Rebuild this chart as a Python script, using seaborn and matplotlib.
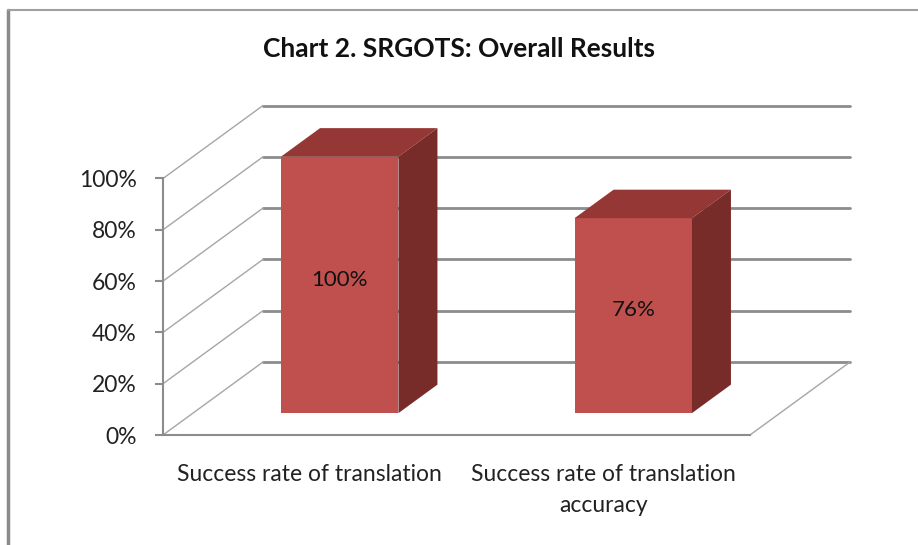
import matplotlib
matplotlib.use("Agg")
import matplotlib.pyplot as plt
from matplotlib.patches import Polygon
from matplotlib.lines import Line2D
import seaborn as sns

categories = ["Success rate of translation", "Success rate of translation\naccuracy"]
values = [1.00, 0.76]
value_labels = ["100%", "76%"]
y_ticks = [0, 0.2, 0.4, 0.6, 0.8, 1.0]
y_tick_labels = ["0%", "20%", "40%", "60%", "80%", "100%"]
title = "Chart 2. SRGOTS: Overall Results"

# fake 3d: depth offset of the back wall, in data units
DX, DY = 0.3407, 0.2846
Z0, Z1 = 0.30, 0.69   # bar front / back depth
front_c, top_c, side_c = "#C0504D", "#953735", "#772C2A"
grid_c = "#8C8C8C"

sns.set_style("white")
plt.rcParams["font.family"] = ["Lato", "DejaVu Sans"]

fig = plt.figure(figsize=(9.18, 5.45), dpi=100)
ax = fig.add_axes([163 / 918, 110 / 545, 687 / 918, 329.5 / 545])

sns.barplot(x=categories, y=values, color=front_c, width=0.4, errorbar=None,
            saturation=1, linewidth=0, ax=ax, zorder=3)

# walls
for v in y_ticks:
    ax.plot([-0.5 + DX, 1.5 + DX], [v + DY, v + DY], color=grid_c, lw=2, zorder=1, clip_on=False)
    ax.plot([-0.5, -0.5 + DX], [v, v + DY], color="#A6A6A6", lw=1, zorder=1, clip_on=False)
ax.plot([1.5, 1.5 + DX], [0, DY], color="#A6A6A6", lw=1, zorder=1, clip_on=False)

# shift bars back and add top / side faces
ddx, ddy = (Z1 - Z0) * DX, (Z1 - Z0) * DY
for p, lab in zip(ax.patches, value_labels):
    p.set_x(p.get_x() + Z0 * DX)
    p.set_y(Z0 * DY)
    x0, w, h = p.get_x(), p.get_width(), p.get_height()
    y0, y1, x1 = Z0 * DY, Z0 * DY + h, x0 + w
    ax.add_patch(Polygon([(x0, y1), (x0 + ddx, y1 + ddy), (x1 + ddx, y1 + ddy), (x1, y1)],
                         closed=True, facecolor=top_c, edgecolor="none", zorder=3))
    ax.add_patch(Polygon([(x1, y0), (x1 + ddx, y0 + ddy), (x1 + ddx, y1 + ddy), (x1, y1)],
                         closed=True, facecolor=side_c, edgecolor="none", zorder=3))
    ax.text(x0 + w / 2, y0 + h / 2 + 0.02, lab, ha="center", va="center",
            fontsize=16, color="#111111", zorder=4)

ax.set_xlim(-0.5, 1.5 + DX)
ax.set_ylim(0, 1 + DY)
ax.set_yticks(y_ticks)
ax.set_yticklabels(y_tick_labels)
ax.set_xticks([0, 1])
ax.set_xticklabels(categories, linespacing=1.6)
ax.set_xticks([-0.5, 0.5, 1.5], minor=True)
ax.tick_params(axis="x", which="major", length=0, pad=21, labelsize=16.5, labelcolor="#222222")
ax.tick_params(axis="x", which="minor", length=7, width=1.5, color=grid_c, direction="out")
ax.tick_params(axis="y", length=6, width=1.5, color=grid_c, pad=13, labelsize=16.5,
               labelcolor="#222222", left=True)
ax.set_xlabel("")
ax.set_ylabel("")
for s in ["top", "right"]:
    ax.spines[s].set_visible(False)
ax.spines["left"].set_bounds(0, 1)
ax.spines["bottom"].set_bounds(-0.5, 1.5)
for s in ["left", "bottom"]:
    ax.spines[s].set_color(grid_c)
    ax.spines[s].set_linewidth(1.5)
ax.patch.set_alpha(0)

fig.text(0.5, 1 - 49 / 545, title, ha="center", va="center", fontsize=19,
         fontweight="bold", color="#111111")

# outer chart border
fig.add_artist(Line2D([8 / 918, 8 / 918], [0, 1 - 10 / 545], color="#8A8A8A", lw=2.5))
fig.add_artist(Line2D([8 / 918, 1], [1 - 10 / 545, 1 - 10 / 545], color="#A0A0A0", lw=1.5))

fig.savefig("out.png", dpi=100)
